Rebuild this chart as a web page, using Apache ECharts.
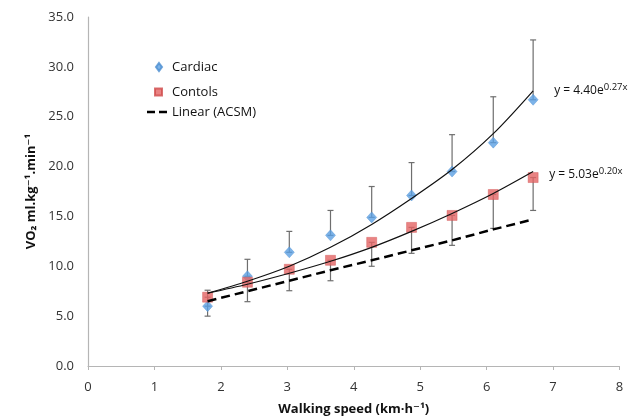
<!DOCTYPE html>
<html><head><meta charset="utf-8">
<script src="https://cdn.jsdelivr.net/npm/echarts/dist/echarts.min.js"></script>
<style>html,body{margin:0;padding:0;background:#fff}#c{width:643px;height:418px}</style>
</head><body><div id="c"></div>
<script>
const speed = [1.8, 2.4, 3.03, 3.65, 4.27, 4.87, 5.48, 6.1, 6.7];
const cardiac = [6.0, 9.0, 11.4, 13.1, 14.9, 17.1, 19.5, 22.4, 26.7];
const cardiacUpper = [7.6, 10.7, 13.5, 15.6, 18.0, 20.4, 23.2, 27.0, 32.7];
const controls = [6.9, 8.4, 9.7, 10.6, 12.4, 13.9, 15.1, 17.2, 18.9];
const controlsLower = [5.0, 6.45, 7.55, 8.55, 10.0, 11.3, 12.1, 13.8, 15.6];
const acsm = [6.5, 7.5, 8.55, 9.6, 10.6, 11.6, 12.6, 13.7, 14.7];
const cardiacFit = [7.3, 8.5, 10.0, 11.9, 14.2, 16.8, 19.7, 23.3, 27.6];
const controlsFit = [7.3, 8.2, 9.3, 10.5, 11.9, 13.5, 15.3, 17.3, 19.5];
const xTicks = [0, 1, 2, 3, 4, 5, 6, 7, 8];
const yTicks = [0, 5, 10, 15, 20, 25, 30, 35];

const FONT = "'Open Sans', 'DejaVu Sans', sans-serif";
const pair = (xs, ys) => xs.map((x, i) => [x, ys[i]]);
const errData = (lo, hi) => speed.map((x, i) => [x, lo[i], hi[i]]);

function errRender(params, api) {
  const x = api.value(0), lo = api.value(1), hi = api.value(2);
  const p1 = api.coord([x, lo]), p2 = api.coord([x, hi]);
  const w = 3;
  const st = {stroke: '#6e6e6e', lineWidth: 1.2};
  return {type: 'group', children: [
    {type: 'line', shape: {x1: p1[0], y1: p1[1], x2: p2[0], y2: p2[1]}, style: st},
    {type: 'line', shape: {x1: p1[0]-w, y1: p1[1], x2: p1[0]+w, y2: p1[1]}, style: st},
    {type: 'line', shape: {x1: p2[0]-w, y1: p2[1], x2: p2[0]+w, y2: p2[1]}, style: st}
  ]};
}

const eqRich = {
  b: {fontSize: 12, fontFamily: FONT, color: '#111', lineHeight: 16},
  s: {fontSize: 9.5, fontFamily: FONT, color: '#111', verticalAlign: 'top', lineHeight: 10}
};
const legendText = {fontSize: 13, fontFamily: FONT, color: '#111'};

const chart = echarts.init(document.getElementById('c'));
chart.setOption({
  animation: false,
  backgroundColor: '#fff',
  grid: {left: 88, right: 23.5, top: 17, bottom: 52, containLabel: false, outerBoundsMode: 'none'},
  legend: [
    {data: [{name: 'Cardiac', icon: 'diamond'}], left: 150, top: 55.5, itemWidth: 6, itemHeight: 8,
      textStyle: Object.assign({padding: [0, 0, 0, 5]}, legendText), selectedMode: false},
    {data: [{name: 'Contols', icon: 'rect'}], left: 149, top: 80.5, itemWidth: 7, itemHeight: 7,
      textStyle: Object.assign({padding: [0, 0, 0, 5]}, legendText), selectedMode: false},
    {data: [{name: 'Linear (ACSM)', icon: 'path://M0,0H8V2.5H0Z M12,0H20V2.5H12Z'}], left: 142, top: 100.5, itemWidth: 20, itemHeight: 2.5,
      textStyle: legendText, selectedMode: false}
  ],
  xAxis: {
    type: 'value', min: xTicks[0], max: xTicks[xTicks.length-1], interval: 1,
    axisLine: {lineStyle: {color: '#b5b5b5', width: 1.2}},
    axisTick: {show: true, length: 4, lineStyle: {color: '#b5b5b5'}},
    splitLine: {show: false},
    axisLabel: {fontSize: 13, fontFamily: FONT, color: '#333', margin: 15},
    name: 'Walking speed (km\u00B7h\u207B\u00B9)', nameLocation: 'middle', nameGap: 37,
    nameTextStyle: {fontSize: 13, fontWeight: 'bold', fontFamily: FONT, color: '#111'}
  },
  yAxis: {
    type: 'value', min: yTicks[0], max: yTicks[yTicks.length-1], interval: 5,
    axisLine: {show: true, lineStyle: {color: '#b5b5b5', width: 1.2}},
    axisTick: {show: false},
    splitLine: {show: false},
    axisLabel: {fontSize: 13, fontFamily: FONT, color: '#333', margin: 14, formatter: v => v.toFixed(1)},
    name: 'VO\u2082 ml.kg\u207B\u00B9.min\u207B\u00B9', nameLocation: 'middle', nameGap: 48, nameRotate: 90,
    nameTextStyle: {fontSize: 13, fontWeight: 'bold', fontFamily: FONT, color: '#111'}
  },
  series: [
    {type: 'custom', name: 'errC', renderItem: errRender, data: errData(cardiac, cardiacUpper), z: 1, silent: true},
    {type: 'custom', name: 'errK', renderItem: errRender, data: errData(controlsLower, controls), z: 1, silent: true},
    {type: 'scatter', name: 'Cardiac', symbol: 'diamond', symbolSize: [10, 11], data: pair(speed, cardiac),
      itemStyle: {color: '#5ba0e4', borderColor: '#4a8cd0', borderWidth: 0.5}, z: 3},
    {type: 'scatter', name: 'Contols', symbol: 'rect', symbolSize: 10, data: pair(speed, controls),
      itemStyle: {color: '#e46464', borderColor: '#cf4c4c', borderWidth: 0.5}, z: 3},
    {type: 'line', name: 'Linear (ACSM)', data: pair(speed, acsm), symbol: 'none', showSymbol: false,
      lineStyle: {color: '#000', width: 2.5, type: [9, 5]}, itemStyle: {color: '#000'}, z: 4},
    {type: 'line', name: 'fitCardiac', data: pair(speed, cardiacFit), smooth: 0.3, symbol: 'none', showSymbol: false,
      lineStyle: {color: '#111', width: 1.2}, z: 4,
      endLabel: {show: true, distance: 21, formatter: '{b|y = 4.40e}{s|0.27x}', rich: eqRich}},
    {type: 'line', name: 'fitControls', data: pair(speed, controlsFit), smooth: 0.3, symbol: 'none', showSymbol: false,
      lineStyle: {color: '#111', width: 1.2}, z: 4,
      endLabel: {show: true, distance: 16, offset: [0, 3], formatter: '{b|y = 5.03e}{s|0.20x}', rich: eqRich}}
  ]
});
</script></body></html>
